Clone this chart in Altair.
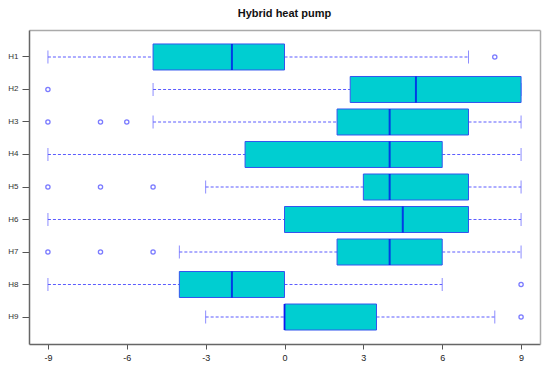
import altair as alt
import pandas as pd

labels = ["H1", "H2", "H3", "H4", "H5", "H6", "H7", "H8", "H9"]
whisker_lo = [-9, -5, -5, -9, -3, -9, -4, -9, -3]
q1 = [-5, 2.5, 2, -1.5, 3, 0, 2, -4, 0]
median = [-2, 5, 4, 4, 4, 4.5, 4, -2, 0]
q3 = [0, 9, 7, 6, 7, 7, 6, 0, 3.5]
whisker_hi = [7, 9, 9, 9, 9, 9, 9, 6, 8]

out_labels = ["H1", "H2", "H3", "H3", "H3", "H5", "H5", "H5", "H7", "H7", "H7", "H8", "H9"]
out_values = [8, -9, -9, -7, -6, -9, -7, -5, -9, -7, -5, 9, 9]

x_ticks = [-9, -6, -3, 0, 3, 6, 9]

df = pd.DataFrame({"label": labels, "lo": whisker_lo, "q1": q1, "med": median,
                   "q3": q3, "hi": whisker_hi})
dout = pd.DataFrame({"label": out_labels, "value": out_values})

xscale = alt.Scale(domain=[-9.72, 9.72], nice=False, zero=False)
yscale = alt.Scale(domain=labels, paddingInner=0, paddingOuter=0.33)

xaxis = alt.Axis(values=x_ticks, title=None, grid=False, labelFontSize=9,
                 labelColor="#222", tickColor="#555", domainColor="#666",
                 domainWidth=1.5, tickSize=5, labelPadding=4,
                 labelExpr="datum.value + ''", labelFont="Liberation Sans")
yaxis = alt.Axis(title=None, grid=False, labelFontSize=8, labelColor="#333",
                 tickColor="#555", domainColor="#666", domainWidth=1.5,
                 tickSize=7, labelPadding=4, labelFont="Liberation Sans")
xaxis_top = alt.Axis(orient="top", title=None, grid=False, labels=False, ticks=False,
                     domainColor="#aaaaaa", domainWidth=1.5)
yaxis_right = alt.Axis(orient="right", title=None, grid=False, labels=False, ticks=False,
                       domainColor="#aaaaaa", domainWidth=1.5)

base = alt.Chart(df)
Y = alt.Y("label:N", scale=yscale, axis=yaxis, sort=labels)

wcol = "#5c5cff"
wl = base.mark_rule(color=wcol, strokeDash=[3, 2], strokeWidth=1.1).encode(
    x=alt.X("lo:Q", scale=xscale, axis=xaxis), x2="q1:Q", y=Y)
wh = base.mark_rule(color=wcol, strokeDash=[3, 2], strokeWidth=1.1).encode(
    x=alt.X("q3:Q", scale=xscale, axis=xaxis_top), x2="hi:Q",
    y=alt.Y("label:N", scale=yscale, axis=yaxis_right, sort=labels))
tlo = base.mark_tick(color=wcol, size=13, thickness=1).encode(
    x=alt.X("lo:Q", scale=xscale, axis=None), y=alt.Y("label:N", sort=labels, axis=None))
thi = base.mark_tick(color=wcol, size=13, thickness=1).encode(
    x=alt.X("hi:Q", scale=xscale, axis=None), y=alt.Y("label:N", sort=labels, axis=None))
box = base.mark_bar(fill="#00CED1", stroke="#3355ee", strokeWidth=1, size=26).encode(
    x=alt.X("q1:Q", scale=xscale, axis=None), x2="q3:Q",
    y=alt.Y("label:N", sort=labels, axis=None))
med = base.mark_tick(color="#0000ee", size=26, thickness=2).encode(
    x=alt.X("med:Q", scale=xscale, axis=None), y=alt.Y("label:N", sort=labels, axis=None))
outl = alt.Chart(dout).mark_point(shape="circle", filled=False, color="#4444ff",
                                  size=18, strokeWidth=1.3).encode(
    x=alt.X("value:Q", scale=xscale, axis=None),
    y=alt.Y("label:N", scale=yscale, sort=labels, axis=None))

chart = alt.layer(wl, wh, tlo, thi, box, med, outl).resolve_axis(
    x="independent", y="independent"
).properties(
    width=511, height=314,
    title=alt.TitleParams("Hybrid heat pump", fontSize=11, fontWeight="bold",
                          font="Liberation Sans", anchor="middle", offset=2,
                          color="#111", baseline="alphabetic"),
    autosize=alt.AutoSizeParams(type="none"),
    padding={"left": 21, "top": 22, "right": 2, "bottom": 18},
).configure_view(stroke=None)

chart.save("out.html", embed_options={"renderer": "svg", "actions": False})
